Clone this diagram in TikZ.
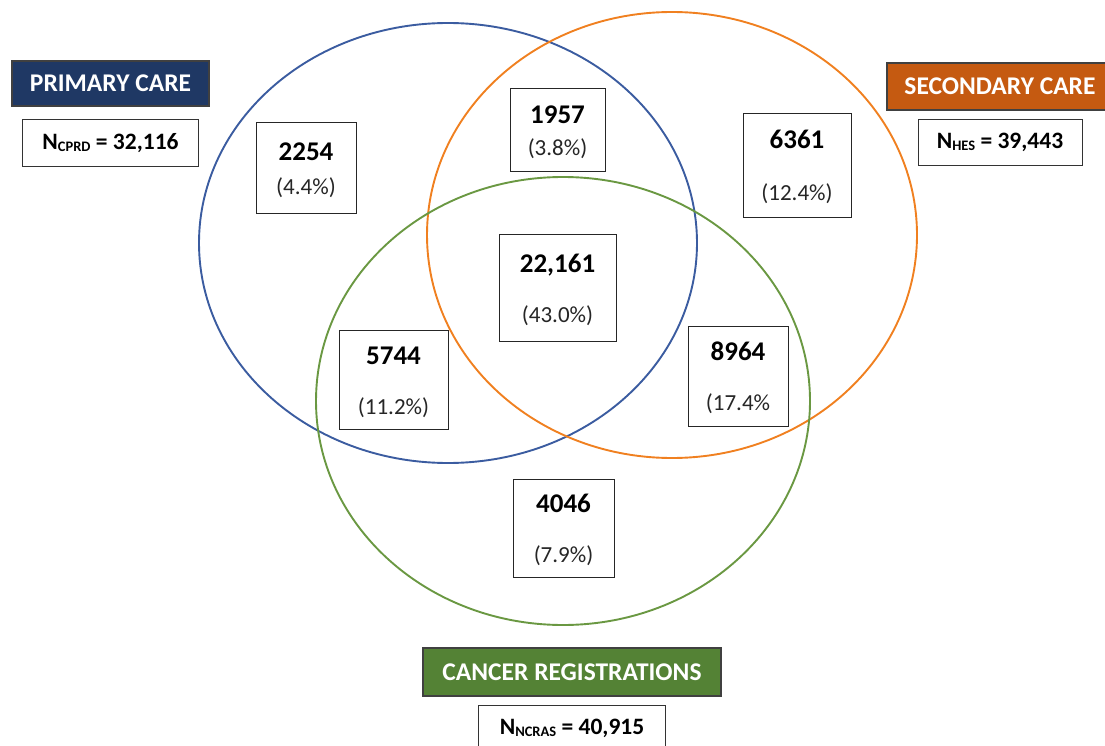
\documentclass[tikz,border=0pt]{standalone}
\usepackage{fontspec}
\setmainfont{Carlito}
\usetikzlibrary{positioning}

\definecolor{primaryblue}{RGB}{31,56,100}
\definecolor{secondaryorange}{RGB}{197,90,17}
\definecolor{cancergreen}{RGB}{84,130,53}
\definecolor{ringblue}{RGB}{59,92,160}
\definecolor{ringorange}{RGB}{240,128,32}
\definecolor{ringgreen}{RGB}{106,152,66}

\tikzset{
  ring/.style={line width=1.9pt},
  source/.style={draw=black!75, line width=1.2pt, text=white, inner sep=0pt,
    font=\fontsize{25.5}{25.5}\selectfont\bfseries},
  count/.style={draw=black!80, line width=1pt, fill=white, inner sep=0pt,
    font=\fontsize{23.5}{23.5}\selectfont\bfseries},
  cell/.style={draw=black!85, line width=0.9pt, fill=white, inner sep=0pt,
    align=center, font=\fontsize{23}{23}\selectfont}
}
\newcommand{\nb}[1]{{\fontsize{27}{27}\selectfont\bfseries\rule{0pt}{23pt}#1}}
\newcommand{\pc}[1]{{\color{black!85}#1}}
\newcommand{\subtag}[1]{{\fontsize{14.5}{14.5}\selectfont\raisebox{-2pt}{#1}}}

\begin{document}
\begin{tikzpicture}[x=1pt,y=-1pt]
 \useasboundingbox (0,0) rectangle (1105,746);
 \clip (0,0) rectangle (1105,746);
 % the three sources
 \draw[ring,ringblue](448,243) ellipse [x radius=249pt, y radius=220pt];
 \draw[ring,ringorange](672,235) ellipse [x radius=245pt, y radius=223pt];
 \draw[ring,ringgreen](563,401) ellipse [x radius=247pt, y radius=224pt];
 % source titles and totals
 \node[source,fill=primaryblue,minimum width=197pt,minimum height=45pt] (primary) at (110.5,83.5) {PRIMARY CARE};
 \node[count,minimum width=176pt,minimum height=47pt,below=12pt of primary] (ncprd) {N\subtag{CPRD} = 32,116};
 \node[source,fill=secondaryorange,minimum width=226pt,minimum height=47pt] (secondary) at (1000,86.5) {SECONDARY CARE};
 \node[count,minimum width=164pt,minimum height=46pt,below=8pt of secondary] (nhes) {N\subtag{HES} = 39,443};
 \node[source,fill=cancergreen,minimum width=298pt,minimum height=48pt] (cancer) at (572,672) {CANCER REGISTRATIONS};
 \node[count,minimum width=187pt,minimum height=47pt,below=8pt of cancer] (nncras) {N\subtag{NCRAS} = 40,915};
 % region counts
 \node[cell,minimum width=100pt,minimum height=91pt] (onlyP) at (306,168) {\nb{2254}\\[11pt]\pc{(4.4\%)}};
 \node[cell,minimum width=95pt,minimum height=83pt] (PS) at (557.5,129.5) {\nb{1957}\\[9pt]\pc{(3.8\%)}};
 \node[cell,minimum width=108pt,minimum height=104pt] (onlyS) at (797,165) {\nb{6361}\\[29pt]\pc{(12.4\%)}};
 \node[cell,minimum width=117pt,minimum height=107pt] (PSC) at (557.5,287.5) {\nb{22,161}\\[27pt]\pc{(43.0\%)}};
 \node[cell,minimum width=109pt,minimum height=99pt] (PC) at (393.5,379.5) {\nb{5744}\\[27pt]\pc{(11.2\%)}};
 \node[cell,minimum width=100pt,minimum height=100pt] (SC) at (738,376) {\nb{8964}\\[27pt]\pc{(17.4\%}};
 \node[cell,minimum width=101pt,minimum height=98pt] (onlyC) at (563.5,528) {\nb{4046}\\[27pt]\pc{(7.9\%)}};
\end{tikzpicture}
\end{document}
